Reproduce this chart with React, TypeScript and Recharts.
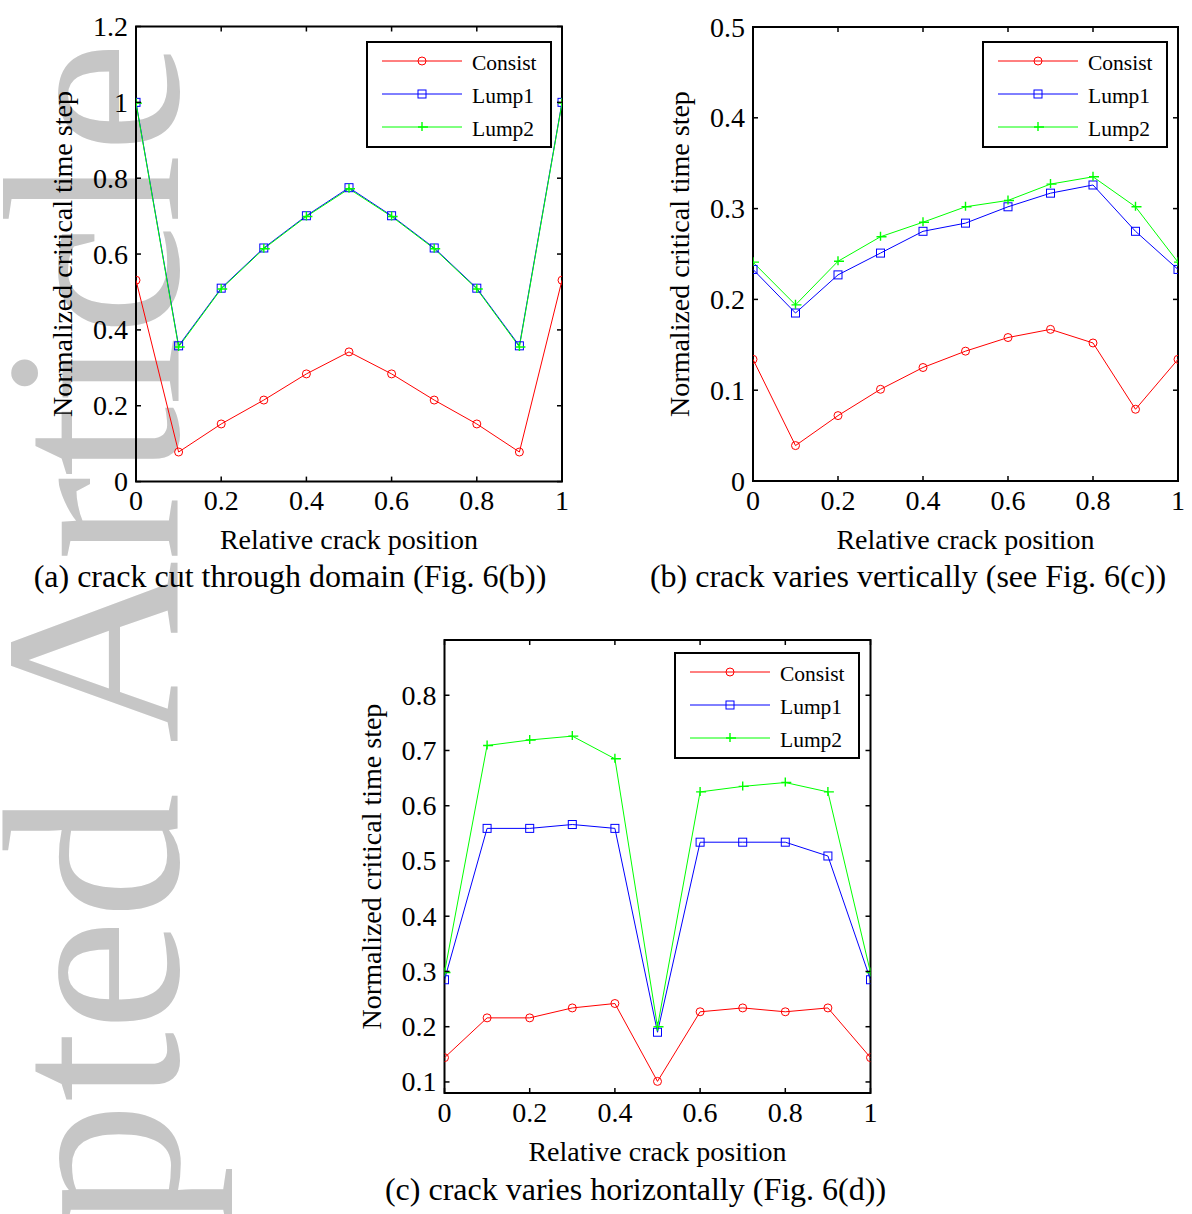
import React from 'react';
import { LineChart, Line, XAxis, YAxis, ReferenceArea, Legend } from 'recharts';

const FONT = "'Liberation Serif', 'Times New Roman', serif";

const positions = [0, 0.1, 0.2, 0.3, 0.4, 0.5, 0.6, 0.7, 0.8, 0.9, 1];
const seriesNames = ['Consist', 'Lump1', 'Lump2'];
const seriesColors = ['#ff0000', '#0000ff', '#00ff00'];
const xTicks = [0, 0.2, 0.4, 0.6, 0.8, 1];
const xTickLabels = ['0', '0.2', '0.4', '0.6', '0.8', '1'];

// (a) crack cut through domain
const aConsist = [0.531, 0.078, 0.152, 0.215, 0.284, 0.342, 0.284, 0.215, 0.152, 0.078, 0.531];
const aLump1 = [1.0, 0.358, 0.51, 0.616, 0.701, 0.775, 0.701, 0.616, 0.51, 0.358, 1.0];
const aLump2 = [0.998, 0.355, 0.508, 0.614, 0.699, 0.772, 0.699, 0.614, 0.508, 0.355, 0.998];
const aYTicks = [0, 0.2, 0.4, 0.6, 0.8, 1, 1.2];
const aYTickLabels = ['0', '0.2', '0.4', '0.6', '0.8', '1', '1.2'];

// (b) crack varies vertically
const bConsist = [0.134, 0.039, 0.072, 0.101, 0.125, 0.143, 0.158, 0.167, 0.152, 0.079, 0.134];
const bLump1 = [0.233, 0.185, 0.227, 0.251, 0.275, 0.284, 0.302, 0.317, 0.326, 0.275, 0.233];
const bLump2 = [0.241, 0.194, 0.242, 0.269, 0.285, 0.302, 0.309, 0.327, 0.335, 0.302, 0.241];
const bYTicks = [0, 0.1, 0.2, 0.3, 0.4, 0.5];
const bYTickLabels = ['0', '0.1', '0.2', '0.3', '0.4', '0.5'];

// (c) crack varies horizontally
const cConsist = [0.144, 0.216, 0.216, 0.234, 0.242, 0.101, 0.227, 0.234, 0.227, 0.234, 0.144];
const cLump1 = [0.285, 0.559, 0.559, 0.566, 0.559, 0.19, 0.534, 0.534, 0.534, 0.509, 0.285];
const cLump2 = [0.298, 0.709, 0.719, 0.726, 0.685, 0.2, 0.625, 0.635, 0.642, 0.625, 0.298];
const cYTicks = [0.1, 0.2, 0.3, 0.4, 0.5, 0.6, 0.7, 0.8];
const cYTickLabels = ['0.1', '0.2', '0.3', '0.4', '0.5', '0.6', '0.7', '0.8'];

const captions = [
  '(a) crack cut through domain (Fig. 6(b))',
  '(b) crack varies vertically (see Fig. 6(c))',
  '(c) crack varies horizontally (Fig. 6(d))',
];
const xAxisTitle = 'Relative crack position';
const yAxisTitle = 'Normalized critical time step';
const watermark = 'Accepted Article';

const TICK_FONT = 28;
const TITLE_FONT = 28;
const CAPTION_FONT = 32;
const LEGEND_FONT = 21.5;
const TICK_LEN = 5;

const circleDot = (color: string) => (p: any) =>
  p.cx == null ? <g key={p.index} /> : (
    <circle key={p.index} cx={p.cx} cy={p.cy} r={4} fill="none" stroke={color} strokeWidth={1} />
  );
const squareDot = (color: string) => (p: any) =>
  p.cx == null ? <g key={p.index} /> : (
    <rect key={p.index} x={p.cx - 4} y={p.cy - 4} width={8} height={8} fill="none" stroke={color} strokeWidth={1} />
  );
const plusDot = (color: string) => (p: any) =>
  p.cx == null ? <g key={p.index} /> : (
    <path
      key={p.index}
      d={`M${p.cx - 4},${p.cy}H${p.cx + 6}M${p.cx},${p.cy - 5}V${p.cy + 4}`}
      stroke={color}
      strokeWidth={1.4}
      fill="none"
    />
  );

function markerFor(i: number, cx: number, cy: number) {
  const c = seriesColors[i];
  if (i === 0) return <circle cx={cx} cy={cy} r={4} fill="none" stroke={c} strokeWidth={1} />;
  if (i === 1) return <rect x={cx - 4} y={cy - 4} width={8} height={8} fill="none" stroke={c} strokeWidth={1} />;
  return <path d={`M${cx - 4},${cy}H${cx + 6}M${cx},${cy - 5}V${cy + 4}`} stroke={c} strokeWidth={1.4} fill="none" />;
}

function LegendBox({ w, h }: { w: number; h: number }) {
  return (
    <svg width={w} height={h} style={{ display: 'block', overflow: 'visible' }}>
      <rect x={1} y={1} width={w - 2} height={h - 2} fill="#fff" stroke="#000" strokeWidth={2} />
      {seriesNames.map((n, i) => {
        const y = 20 + i * 33;
        return (
          <g key={n}>
            <line x1={16} x2={96} y1={y} y2={y} stroke={seriesColors[i]} strokeWidth={1} />
            {markerFor(i, 56, y)}
            <text x={106} y={y + 2} dominantBaseline="central" fontSize={LEGEND_FONT} fontFamily={FONT} fill="#000">
              {n}
            </text>
          </g>
        );
      })}
    </svg>
  );
}

type PanelProps = {
  left: number;
  top: number;
  width: number;
  height: number;
  plot: { top: number; right: number; bottom: number; left: number };
  domain: [number, number];
  yTicks: number[];
  yTickLabels: string[];
  consist: number[];
  lump1: number[];
  lump2: number[];
  legendX: number;
  legendY: number;
};

function Panel(props: PanelProps) {
  const { left, top, width, height, plot, domain, yTicks, yTickLabels, consist, lump1, lump2, legendX, legendY } = props;
  const data = positions.map((x, i) => ({ x, consist: consist[i], lump1: lump1[i], lump2: lump2[i] }));
  const plotW = width - plot.left - plot.right;
  const plotH = height - plot.top - plot.bottom;
  // axes take 1px each, so margins are reduced by 1 to keep the plot box in place
  const margin = { top: plot.top, right: plot.right, bottom: plot.bottom - 1, left: plot.left - 1 };

  const renderXTick = (p: any) => {
    const v = p.payload.value;
    const idx = xTicks.findIndex((t) => Math.abs(t - v) < 1e-9);
    const label = idx >= 0 ? xTickLabels[idx] : String(v);
    return (
      <g>
        <line x1={p.x} x2={p.x} y1={p.y} y2={p.y - TICK_LEN} stroke="#000" strokeWidth={1.5} />
        <line x1={p.x} x2={p.x} y1={p.y - plotH} y2={p.y - plotH + TICK_LEN} stroke="#000" strokeWidth={1.5} />
        <text x={p.x} y={p.y + 28.5} textAnchor="middle" fontSize={TICK_FONT} fontFamily={FONT} fill="#000">
          {label}
        </text>
      </g>
    );
  };
  const renderYTick = (p: any) => {
    const v = p.payload.value;
    const idx = yTicks.findIndex((t) => Math.abs(t - v) < 1e-9);
    const label = idx >= 0 ? yTickLabels[idx] : String(v);
    return (
      <g>
        <line x1={p.x} x2={p.x + TICK_LEN} y1={p.y} y2={p.y} stroke="#000" strokeWidth={1.5} />
        <line x1={p.x + plotW} x2={p.x + plotW - TICK_LEN} y1={p.y} y2={p.y} stroke="#000" strokeWidth={1.5} />
        <text x={p.x - 8} y={p.y} textAnchor="end" dominantBaseline="central" fontSize={TICK_FONT} fontFamily={FONT} fill="#000">
          {label}
        </text>
      </g>
    );
  };

  return (
    <div style={{ position: 'absolute', left, top, width, height }}>
      <LineChart width={width} height={height} data={data} margin={margin}>
        <XAxis
          type="number"
          dataKey="x"
          domain={[0, 1]}
          ticks={xTicks}
          interval={0}
          height={1}
          tickSize={0}
          tickMargin={0}
          axisLine={false}
          tickLine={false}
          allowDataOverflow
          tick={renderXTick}
        />
        <YAxis
          type="number"
          domain={domain}
          ticks={yTicks}
          interval={0}
          width={1}
          tickSize={0}
          tickMargin={0}
          axisLine={false}
          tickLine={false}
          allowDataOverflow
          tick={renderYTick}
        />
        <ReferenceArea
          x1={0}
          x2={1}
          y1={domain[0]}
          y2={domain[1]}
          fill="none"
          fillOpacity={0}
          stroke="#000"
          strokeWidth={2}
          ifOverflow="visible"
        />
        <Line
          dataKey="consist"
          name={seriesNames[0]}
          stroke={seriesColors[0]}
          strokeWidth={1}
          dot={circleDot(seriesColors[0])}
          activeDot={false}
          isAnimationActive={false}
        />
        <Line
          dataKey="lump1"
          name={seriesNames[1]}
          stroke={seriesColors[1]}
          strokeWidth={1}
          dot={squareDot(seriesColors[1])}
          activeDot={false}
          isAnimationActive={false}
        />
        <Line
          dataKey="lump2"
          name={seriesNames[2]}
          stroke={seriesColors[2]}
          strokeWidth={1}
          dot={plusDot(seriesColors[2])}
          activeDot={false}
          isAnimationActive={false}
        />
        <Legend
          layout="vertical"
          align="center"
          verticalAlign="middle"
          wrapperStyle={{ left: legendX, top: legendY, width: 186, height: 107 }}
          content={() => <LegendBox w={186} h={107} />}
        />
      </LineChart>
    </div>
  );
}

function Texts() {
  const titleProps = { fontSize: TITLE_FONT, fontFamily: FONT, fill: '#000', textAnchor: 'middle' as const };
  const capProps = { fontSize: CAPTION_FONT, fontFamily: FONT, fill: '#000', textAnchor: 'middle' as const };
  const ylab = (x: number, y: number) => (
    <text x={x} y={y} transform={`rotate(-90 ${x} ${y})`} {...titleProps}>
      {yAxisTitle}
    </text>
  );
  return (
    <svg width={1192} height={1214} style={{ position: 'absolute', left: 0, top: 0, pointerEvents: 'none' }}>
      <text x={349} y={549} {...titleProps}>{xAxisTitle}</text>
      <text x={965.5} y={549} {...titleProps}>{xAxisTitle}</text>
      <text x={657.5} y={1161} {...titleProps}>{xAxisTitle}</text>
      {ylab(72, 254)}
      {ylab(689, 254)}
      {ylab(381, 866.5)}
      <text x={290} y={587} {...capProps}>{captions[0]}</text>
      <text x={908} y={587} {...capProps}>{captions[1]}</text>
      <text x={635.5} y={1200} {...capProps}>{captions[2]}</text>
    </svg>
  );
}

export default function App() {
  return (
    <div
      style={{
        position: 'absolute',
        left: 0,
        top: 0,
        width: 1192,
        height: 1214,
        background: '#fff',
        overflow: 'hidden',
        fontFamily: FONT,
      }}
    >
      <svg width={1192} height={1214} style={{ position: 'absolute', left: 0, top: 0 }}>
        <text
          x={178}
          y={1748}
          transform="rotate(-90 178 1748)"
          fontSize={253}
          fontFamily="Liberation Serif"
          fill="#c6c6c6"
        >
          {watermark}
        </text>
      </svg>
      <Panel
        left={0}
        top={0}
        width={600}
        height={600}
        plot={{ top: 26.5, right: 38, bottom: 118.4, left: 136 }}
        domain={[0, 1.2]}
        yTicks={aYTicks}
        yTickLabels={aYTickLabels}
        consist={aConsist}
        lump1={aLump1}
        lump2={aLump2}
        legendX={366}
        legendY={41}
      />
      <Panel
        left={600}
        top={0}
        width={592}
        height={600}
        plot={{ top: 27, right: 14, bottom: 119, left: 153 }}
        domain={[0, 0.5]}
        yTicks={bYTicks}
        yTickLabels={bYTickLabels}
        consist={bConsist}
        lump1={bLump1}
        lump2={bLump2}
        legendX={382}
        legendY={41}
      />
      <Panel
        left={340}
        top={620}
        width={560}
        height={594}
        plot={{ top: 20, right: 29.5, bottom: 121, left: 104.5 }}
        domain={[0.08, 0.9]}
        yTicks={cYTicks}
        yTickLabels={cYTickLabels}
        consist={cConsist}
        lump1={cLump1}
        lump2={cLump2}
        legendX={334}
        legendY={32}
      />
      <Texts />
    </div>
  );
}
